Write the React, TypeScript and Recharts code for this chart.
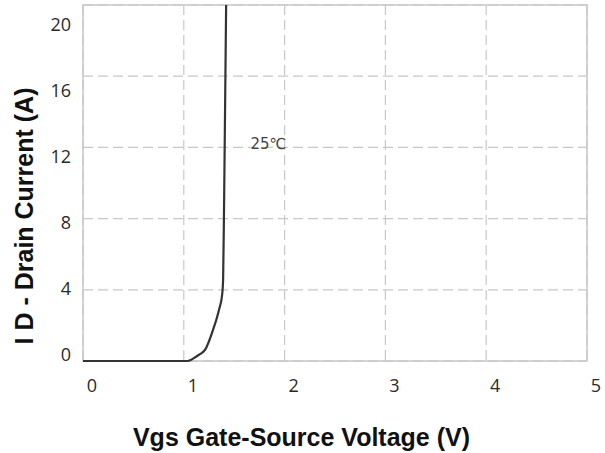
import React from 'react';
import { LineChart, Line, XAxis, YAxis, CartesianGrid, ReferenceArea, ReferenceDot, Label } from 'recharts';

// transfer curve
const VGS = [0, 1.04, 1.07, 1.11, 1.16, 1.21, 1.29, 1.35, 1.38, 1.39, 1.4, 1.42];
const ID = [0, 0, 0.05, 0.2, 0.38, 0.62, 1.75, 2.9, 3.7, 4.55, 9.0, 20];

const X_TICKS = [0, 1, 2, 3, 4, 5];
const Y_TICKS = [0, 4, 8, 12, 16, 20];

const TEMP_LABEL = '25℃';
const X_TITLE = 'Vgs Gate-Source Voltage (V)';
const Y_TITLE = 'I D - Drain Current (A)';

const W = 605;
const H = 453;

const data = VGS.map((v, i) => ({ vgs: v, id: ID[i] }));

const tickFont = { fontFamily: '"Open Sans", sans-serif', fontSize: 18, fill: '#2a2a2a' };
const titleStyle = { fontFamily: '"Liberation Sans", Arial, sans-serif', fontSize: 25, fontWeight: 700, fill: '#111' };

// the printed labels in the original sit a bit off the grid lines
const XTick = ({ x, y, payload }: any) => (
  <text x={x + 9} y={y} dy="0.71em" textAnchor="middle" style={tickFont}>
    {payload.value}
  </text>
);

const YTick = ({ x, y, payload }: any) => (
  <text x={x} y={y - 6 + 1.3 * payload.value} dy="0.355em" textAnchor="end" style={tickFont}>
    {payload.value}
  </text>
);

const XTitle = () => (
  <text x={W / 2 - 1} y={446} textAnchor="middle" style={titleStyle}>
    {X_TITLE}
  </text>
);

const YTitle = () => (
  <text x={33} y={216} textAnchor="middle" transform="rotate(-90 33 216)" style={titleStyle}>
    {Y_TITLE}
  </text>
);

export default function App() {
  return (
    <div style={{ position: 'absolute', left: 0, top: 0, width: W, height: H, background: '#fff' }}>
      <LineChart width={W} height={H} data={data} margin={{ top: 5, right: 18, bottom: 0, left: 0 }}>
        <CartesianGrid stroke="#c8c8c8" strokeWidth={1.2} strokeDasharray="10 5" />
        <XAxis
          dataKey="vgs"
          type="number"
          domain={[0, 5]}
          ticks={X_TICKS}
          interval={0}
          height={92}
          axisLine={false}
          tickLine={false}
          tickSize={0}
          tickMargin={18}
          tick={<XTick />}
        >
          <Label content={<XTitle />} />
        </XAxis>
        <YAxis
          type="number"
          domain={[0, 20]}
          ticks={Y_TICKS}
          interval={0}
          width={83}
          axisLine={false}
          tickLine={false}
          tickSize={0}
          tickMargin={12}
          tick={<YTick />}
        >
          <Label content={<YTitle />} />
        </YAxis>

        <ReferenceArea x1={0} x2={5} y1={0} y2={20} fill="none" stroke="#c8c8c8" strokeWidth={1.5} />
        <ReferenceDot x={1.84} y={12.2} r={0} fill="none" stroke="none">
          <Label
            value={TEMP_LABEL}
            position="center"
            style={{ fontFamily: '"DejaVu Sans", sans-serif', fontSize: 15, fill: '#444' }}
          />
        </ReferenceDot>

        <Line
          type="monotone"
          dataKey="id"
          stroke="#333"
          strokeWidth={2.2}
          dot={false}
          isAnimationActive={false}
        />
      </LineChart>
    </div>
  );
}
